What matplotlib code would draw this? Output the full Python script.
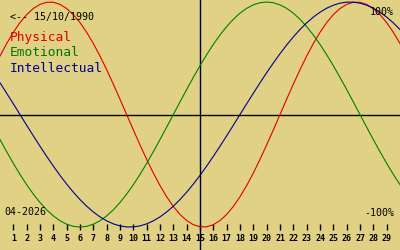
import matplotlib
matplotlib.use("Agg")
import matplotlib.pyplot as plt
import numpy as np

# half-day samples, day 0 .. day 30
days = np.arange(0, 30.5, 0.5)

physical = [0.5196, 0.6311, 0.7308, 0.8170, 0.8879, 0.9423, 0.9791, 0.9977, 0.9977, 0.9791,
            0.9423, 0.8879, 0.8170, 0.7308, 0.6311, 0.5196, 0.3984, 0.2698, 0.1362, 0.0,
            -0.1362, -0.2698, -0.3984, -0.5196, -0.6311, -0.7308, -0.8170, -0.8879, -0.9423, -0.9791,
            -0.9977, -0.9977, -0.9791, -0.9423, -0.8879, -0.8170, -0.7308, -0.6311, -0.5196, -0.3984,
            -0.2698, -0.1362, 0.0, 0.1362, 0.2698, 0.3984, 0.5196, 0.6311, 0.7308, 0.8170,
            0.8879, 0.9423, 0.9791, 0.9977, 0.9977, 0.9791, 0.9423, 0.8879, 0.8170, 0.7308,
            0.6311]

emotional = [-0.2225, -0.3303, -0.4339, -0.5320, -0.6235, -0.7071, -0.7818, -0.8467, -0.9010, -0.9439,
             -0.9749, -0.9937, -1.0, -0.9937, -0.9749, -0.9439, -0.9010, -0.8467, -0.7818, -0.7071,
             -0.6235, -0.5320, -0.4339, -0.3303, -0.2225, -0.1120, 0.0, 0.1120, 0.2225, 0.3303,
             0.4339, 0.5320, 0.6235, 0.7071, 0.7818, 0.8467, 0.9010, 0.9439, 0.9749, 0.9937,
             1.0, 0.9937, 0.9749, 0.9439, 0.9010, 0.8467, 0.7818, 0.7071, 0.6235, 0.5320,
             0.4339, 0.3303, 0.2225, 0.1120, 0.0, -0.1120, -0.2225, -0.3303, -0.4339, -0.5320,
             -0.6235]

intellectual = [0.2817, 0.1893, 0.0951, 0.0, -0.0951, -0.1893, -0.2817, -0.3717, -0.4582, -0.5406,
                -0.6182, -0.6900, -0.7557, -0.8146, -0.8660, -0.9096, -0.9450, -0.9718, -0.9898, -0.9989,
                -0.9989, -0.9898, -0.9718, -0.9450, -0.9096, -0.8660, -0.8146, -0.7557, -0.6900, -0.6182,
                -0.5406, -0.4582, -0.3717, -0.2817, -0.1893, -0.0951, 0.0, 0.0951, 0.1893, 0.2817,
                0.3717, 0.4582, 0.5406, 0.6182, 0.6900, 0.7557, 0.8146, 0.8660, 0.9096, 0.9450,
                0.9718, 0.9898, 0.9989, 0.9989, 0.9898, 0.9718, 0.9450, 0.9096, 0.8660, 0.8146,
                0.7557]

tick_days = list(range(1, 30))
today = 15
birth = "15/10/1990"
month = "04-2026"

bg = "#e0d184"
mono = "DejaVu Sans Mono"

fig = plt.figure(figsize=(4, 2.5), dpi=100, facecolor=bg)
ax = fig.add_axes([0, 0, 1, 1], facecolor=bg)
ax.set_xlim(0, 30)
ax.set_ylim(-1.204, 1.018)

ax.axhline(0, color="black", lw=1)
ax.axvline(today, color="black", lw=1)

ax.plot(days, physical, color="#e00000", lw=0.8)
ax.plot(days, emotional, color="#008000", lw=0.8)
ax.plot(days, intellectual, color="#000090", lw=0.8)

for s in ["top", "left", "right"]:
    ax.spines[s].set_visible(False)
ax.spines["bottom"].set_position(("axes", 0.08))
ax.spines["bottom"].set_color("none")
ax.set_yticks([])
ax.set_xticks(tick_days)
ax.set_xticklabels([str(d) for d in tick_days], fontfamily=mono,
                   fontweight="bold", fontsize=6)
ax.tick_params(axis="x", direction="in", length=4.3, width=1, pad=3, color="black")

ax.text(0.025, 0.933, "<-- " + birth, transform=ax.transAxes, fontfamily=mono,
        fontsize=7.2, va="center", ha="left", color="black")
ax.text(0.025, 0.848, "Physical", transform=ax.transAxes, fontfamily=mono,
        fontsize=9.3, va="center", ha="left", color="#e00000")
ax.text(0.025, 0.788, "Emotional", transform=ax.transAxes, fontfamily=mono,
        fontsize=9.3, va="center", ha="left", color="#007800")
ax.text(0.025, 0.728, "Intellectual", transform=ax.transAxes, fontfamily=mono,
        fontsize=9.3, va="center", ha="left", color="#000090")
ax.text(0.985, 0.952, "100%", transform=ax.transAxes, fontfamily=mono,
        fontsize=7.2, va="center", ha="right", color="black")
ax.text(0.985, 0.148, "-100%", transform=ax.transAxes, fontfamily=mono,
        fontsize=7.2, va="center", ha="right", color="black")
ax.text(0.012, 0.152, month, transform=ax.transAxes, fontfamily=mono,
        fontsize=7.2, va="center", ha="left", color="black")

fig.savefig("out.png", dpi=100, facecolor=bg)
